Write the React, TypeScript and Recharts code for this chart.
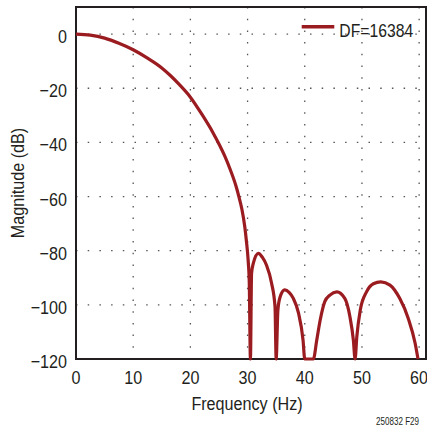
import { LineChart, Line, XAxis, YAxis, CartesianGrid, Legend, ReferenceArea } from 'recharts'

// (Hz, dB); notches bottom out at the -120 floor
const freqHz = [
  0, 2.5, 5, 7.5, 10, 12.5, 15, 16.5, 18, 20, 22, 24, 25, 26, 27, 28, 28.5, 29, 29.5, 29.8, 30.1, 30.3, 30.5,
  30.7, 31.0, 31.9, 32.6, 33.3, 34.2, 34.8, 35.0,
  35.3, 35.7, 36.5, 37.3, 38.0, 38.9, 39.7, 40.0, 41.5,
  42.1, 42.7, 43.5, 44.4, 45.6, 47.0, 47.9, 48.5, 48.8,
  49.1, 49.7, 50.8, 52.0, 53.3, 54.9, 56.6, 58.1, 59.3, 59.8,
]
const magnitudeDb = [
  0, -0.4, -1.5, -3.4, -5.8, -8.9, -12.5, -15.3, -18.5, -23.3, -29.6, -36.6, -40.6, -45, -50.2, -56.3, -60.2, -64.6, -71, -76.5, -83.5, -92, -120,
  -88.4, -84.7, -81, -82.5, -85.3, -92, -100.7, -120,
  -102, -97, -94.5, -95.5, -97.6, -103, -113, -120, -120,
  -113, -105.6, -98.8, -96.4, -95.2, -97.6, -104.4, -113, -120,
  -111.8, -102, -95.2, -92.2, -91.5, -92.7, -97.6, -105, -114.2, -120,
]
const xTicks = [0, 10, 20, 30, 40, 50, 60]
const yTicks = [-120, -100, -80, -60, -40, -20, 0]
const seriesName = 'DF=16384'

const data = freqHz.map((f, i) => ({ f, db: magnitudeDb[i] }))

const X_MAX = 61.2
const RED = '#9b1c20'
const INK = '#231f20'
const FONT = '"Liberation Sans", Arial, sans-serif'
const NARROW = 0.85

const fmtY = (v: number) => (v < 0 ? `\u2212${Math.abs(v)}` : `${v}`)

// condensed text: the Helvetica Condensed look is faked with a horizontal squeeze
const Narrow = ({ x, y, anchor = 'start', size = 19, sx = NARROW, children }: any) => (
  <g transform={`translate(${x},${y})`}>
    <text transform={`scale(${sx},1)`} textAnchor={anchor} fill={INK} fontSize={size} fontFamily={FONT}>
      {children}
    </text>
  </g>
)

const XTick = ({ x, y, payload }: any) => (
  <Narrow x={x} y={y + 17} anchor="middle">{payload.value}</Narrow>
)

const YTick = ({ x, y, payload }: any) => (
  <Narrow x={x} y={y + 9} anchor="end">{fmtY(payload.value)}</Narrow>
)

const YTitle = ({ viewBox }: any) => {
  const cy = viewBox.y + viewBox.height / 2
  return (
    <g transform={`translate(24,${cy}) rotate(-90)`}>
      <text transform={`scale(${NARROW},1)`} textAnchor="middle" fill={INK} fontSize={19} fontFamily={FONT}>
        Magnitude (dB)
      </text>
    </g>
  )
}

const XTitle = () => (
  <g>
    <Narrow x={247} y={410} anchor="middle">Frequency (Hz)</Narrow>
    <Narrow x={419} y={425} anchor="end" size={11.5} sx={0.7}>250832 F29</Narrow>
  </g>
)

// zero-height box so the legend does not eat into the plot area
const LegendBox = () => (
  <div style={{ height: 0, width: 0, overflow: 'visible' }}>
    <svg width={127} height={32} style={{ display: 'block' }}>
      <line x1={1.7} y1={16.7} x2={34.3} y2={16.7} stroke={RED} strokeWidth={3.4} />
      <Narrow x={39.3} y={26.7} size={18.5}>{seriesName}</Narrow>
    </svg>
  </div>
)

export default function App() {
  return (
    <div style={{ position: 'absolute', left: 0, top: 0, background: '#fff' }}>
      <LineChart width={427} height={427} data={data} margin={{ top: 7, right: 1, left: 0, bottom: 0 }}>
        <CartesianGrid stroke="#555" strokeWidth={1.3} strokeDasharray="1.5 10.2" />
        <XAxis dataKey="f" type="number" domain={[0, X_MAX]} ticks={xTicks} height={68}
          tickLine={false} tickSize={0} tickMargin={8} axisLine={false}
          tick={<XTick />} label={<XTitle />} />
        <YAxis type="number" domain={[-120, 10]} ticks={yTicks} width={76}
          tickLine={false} tickSize={0} tickMargin={9} axisLine={false}
          tick={<YTick />} label={<YTitle />} />
        <ReferenceArea x1={0} x2={X_MAX} y1={-120} y2={10} fill="none" fillOpacity={0}
          stroke={INK} strokeWidth={2} strokeOpacity={1} />
        <Legend content={<LegendBox />}
          wrapperStyle={{ position: 'absolute', top: 10, left: 300, width: 0, height: 0 }} />
        <Line type="monotone" dataKey="db" name={seriesName} stroke={RED} strokeWidth={3.2}
          dot={false} isAnimationActive={false} zIndex={600} />
      </LineChart>
    </div>
  )
}
